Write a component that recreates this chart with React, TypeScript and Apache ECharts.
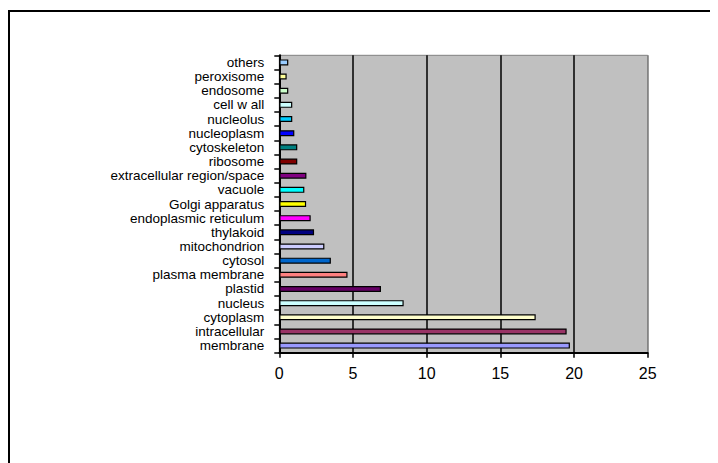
import React, { useEffect, useRef } from "react";
import * as echarts from "echarts";

const categories = [
  "membrane",
  "intracellular",
  "cytoplasm",
  "nucleus",
  "plastid",
  "plasma membrane",
  "cytosol",
  "mitochondrion",
  "thylakoid",
  "endoplasmic reticulum",
  "Golgi apparatus",
  "vacuole",
  "extracellular region/space",
  "ribosome",
  "cytoskeleton",
  "nucleoplasm",
  "nucleolus",
  "cell w all",
  "endosome",
  "peroxisome",
  "others",
];

const values = [
  19.72, 19.5, 17.4, 8.44, 6.9, 4.63, 3.5, 3.06, 2.36, 2.13, 1.82, 1.7, 1.84,
  1.22, 1.22, 1.02, 0.88, 0.88, 0.61, 0.5, 0.61,
];

const barColors = [
  "#9999FF",
  "#993366",
  "#FFFFCC",
  "#CCFFFF",
  "#660066",
  "#FF8080",
  "#0066CC",
  "#CCCCFF",
  "#000080",
  "#FF00FF",
  "#FFFF00",
  "#00FFFF",
  "#800080",
  "#800000",
  "#008080",
  "#0000FF",
  "#00CCFF",
  "#CCFFFF",
  "#CCFFCC",
  "#FFFF99",
  "#99CCFF",
];

const xTicks = [0, 5, 10, 15, 20, 25];

export default function App() {
  const ref = useRef<HTMLDivElement>(null);
  useEffect(() => {
    if (!ref.current) return;
    const chart = echarts.init(ref.current, undefined, { renderer: "svg" });
    const font = "'Liberation Sans', Arial, sans-serif";
    chart.setOption({
      animation: false,
      graphic: [
        {
          type: "rect",
          shape: { x: 1, y: 3, width: 900, height: 700 },
          style: { fill: "none", stroke: "#000", lineWidth: 2 },
          silent: true,
          z: 100,
        },
      ],
      grid: {
        left: 271.3,
        top: 47.3,
        right: 70.3,
        bottom: 110.3,
        show: true,
        backgroundColor: "#C0C0C0",
        borderColor: "#808080",
        borderWidth: 1,
        containLabel: false,
      },
      xAxis: {
        type: "value",
        min: xTicks[0],
        max: xTicks[xTicks.length - 1],
        interval: 5,
        axisLine: { show: true, lineStyle: { color: "#000", width: 2 } },
        axisTick: { show: true, length: 5, lineStyle: { color: "#000", width: 1.5 } },
        axisLabel: {
          color: "#000",
          fontFamily: font,
          fontSize: 16,
          margin: 13,
        },
        splitLine: {
          show: true,
          lineStyle: {
            color: ["#000", "#000", "#000", "#000", "#000", "#808080"],
            width: 1.5,
          },
        },
      },
      yAxis: {
        type: "category",
        data: categories,
        boundaryGap: true,
        axisLine: { show: true, lineStyle: { color: "#000", width: 2 } },
        axisTick: {
          show: true,
          length: 5,
          alignWithLabel: false,
          lineStyle: { color: "#000", width: 1.5 },
        },
        axisLabel: {
          color: "#000",
          fontFamily: font,
          fontSize: 13.5,
          lineHeight: 13,
          margin: 15,
          interval: 0,
        },
        splitLine: { show: false },
      },
      series: [
        {
          type: "bar",
          data: values.map((v, i) => ({
            value: v,
            itemStyle: { color: barColors[i] },
          })),
          barWidth: 6,
          itemStyle: { borderColor: "#000", borderWidth: 1.2 },
        },
      ],
    });
    return () => chart.dispose();
  }, []);
  return <div ref={ref} style={{ width: 710, height: 455 }} />;
}
